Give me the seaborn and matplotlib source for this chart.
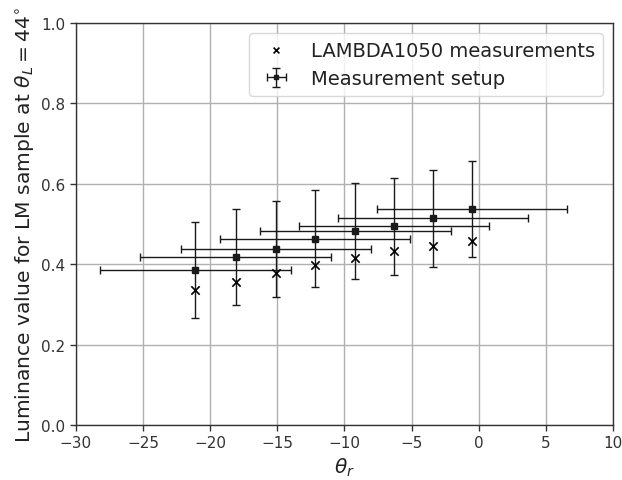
import matplotlib
matplotlib.use("Agg")
import matplotlib.pyplot as plt
import seaborn as sns
import numpy as np
import pandas as pd

# angles of the measured points (theta_r)
theta_r = [-21.1, -18.1, -15.1, -12.2, -9.2, -6.3, -3.4, -0.5]
# LAMBDA1050 reference measurements
lambda_lum = [0.335, 0.357, 0.378, 0.398, 0.415, 0.432, 0.446, 0.459]
# measurement setup values and their uncertainties
setup_lum = [0.385, 0.418, 0.438, 0.464, 0.483, 0.494, 0.514, 0.537]
setup_yerr = [0.12, 0.12, 0.12, 0.12, 0.12, 0.12, 0.12, 0.12]
setup_xerr = [7.1, 7.1, 7.1, 7.1, 7.1, 7.1, 7.1, 7.1]

df = pd.DataFrame({
    'theta_r': theta_r,
    'lambda': lambda_lum,
    'setup': setup_lum,
    'yerr': setup_yerr,
    'xerr': setup_xerr,
})

sns.set_style("whitegrid", {
    'axes.edgecolor': '#333333',
    'grid.color': '#b0b0b0',
    'xtick.bottom': True,
    'ytick.left': True,
    'xtick.direction': 'out',
    'ytick.direction': 'out',
    'xtick.color': '#333333',
    'ytick.color': '#333333',
    'axes.labelcolor': '#222222',
    'text.color': '#222222',
})
plt.rcParams['font.family'] = ['DejaVu Sans']

fig, ax = plt.subplots(figsize=(6.22, 4.81), dpi=100)
fig.subplots_adjust(left=0.122, right=0.9855, top=0.950, bottom=0.1143)

sns.scatterplot(data=df, x='theta_r', y='lambda', ax=ax, marker='x', color='k',
                s=36, linewidth=1.2, label='LAMBDA1050 measurements', zorder=3)
ax.errorbar(df['theta_r'], df['setup'], xerr=df['xerr'], yerr=df['yerr'],
            fmt='s', color='#1a1a1a', ecolor='#1a1a1a', markersize=4,
            elinewidth=1, capsize=3, capthick=1, label='Measurement setup', zorder=2)

ax.set_xlim(-30, 10)
ax.set_ylim(0, 1.0)
ax.set_xticks(np.arange(-30, 11, 5))
ax.set_yticks(np.arange(0, 1.01, 0.2))
ax.tick_params(labelsize=11, length=4, width=1)
for s in ax.spines.values():
    s.set_linewidth(1)
ax.grid(True, linewidth=1)

ax.set_xlabel(r'$\theta_r$', fontsize=14.5)
ax.set_ylabel(r'Luminance value for LM sample at $\theta_L = 44^{\circ}$', fontsize=14.6)
ax.legend(loc='upper right', fontsize=14, framealpha=0.8, edgecolor='#d0d0d0',
          markerscale=0.7)

fig.savefig('out.png', dpi=100)
